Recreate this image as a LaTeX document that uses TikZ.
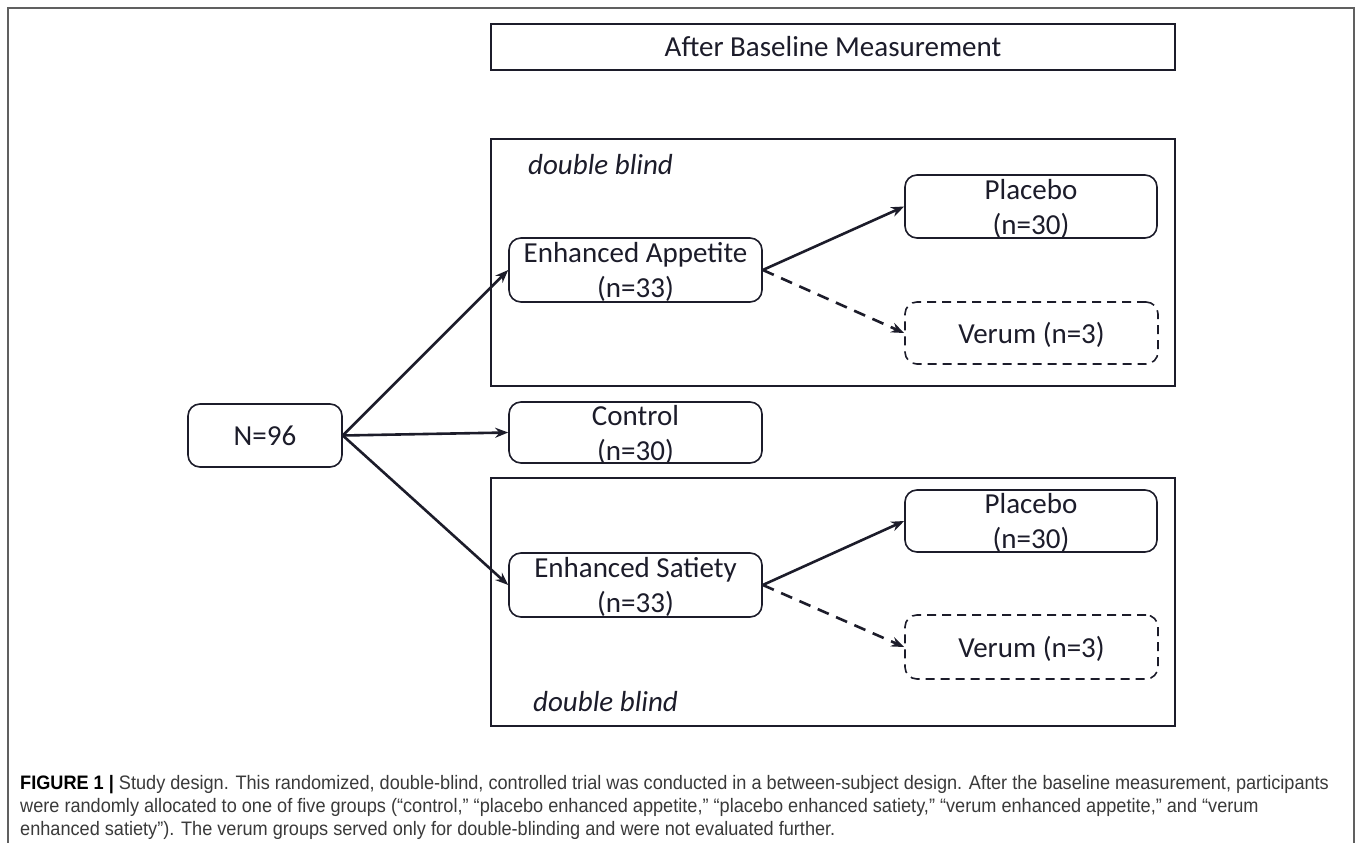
\documentclass[tikz,border=0pt]{standalone}
\usepackage{fontspec}
\setmainfont{Carlito}
\newfontfamily\capfont{Liberation Sans}[FakeStretch=0.93]
\usetikzlibrary{arrows.meta}
\definecolor{ink}{HTML}{1C1C2A}
\definecolor{capgray}{HTML}{3A3A3A}
\tikzset{
  box/.style={draw=ink, line width=1.6pt, rounded corners=12pt, inner sep=0pt, align=center,
    font=\fontsize{29}{35}\selectfont, text=ink, text depth=0pt},
  dbox/.style={box, dash pattern=on 9pt off 6pt, text depth=-4pt},
  frame/.style={draw=ink, line width=1.6pt, inner sep=0pt},
  arr/.style={draw=ink, line width=2.6pt, -{Stealth[length=13pt,width=10pt]}},
  darr/.style={arr, dash pattern=on 12pt off 8pt},
  dbl/.style={font=\fontsize{29}{35}\selectfont\itshape, text=ink, anchor=west, inner sep=0pt},
  capline/.style={font=\capfont\fontsize{19.5}{23}\selectfont, text=capgray, anchor=base west, inner sep=0pt}
}
\begin{document}
\begin{tikzpicture}[x=1pt,y=-1pt]
\useasboundingbox (0,0) rectangle (1358,843);
\fill[white] (0,0) rectangle (1358,843);
\draw[gray!75!black, line width=1.4pt] (8,8) rectangle (1354,860);
% frames
\node[frame, minimum width=684pt, minimum height=46pt, font=\fontsize{29}{35}\selectfont, text=ink] (abm) at (833,47) {After Baseline Measurement};
\node[frame, minimum width=684pt, minimum height=247pt] (upfr) at (833,262.5) {};
\node[frame, minimum width=684pt, minimum height=248pt] (lofr) at (833,602) {};
\node[dbl] (dbu) at (528,165) {double blind};
\node[dbl] (dbl) at (533,702) {double blind};
% boxes
\node[box, minimum width=154pt, minimum height=63pt, text depth=-2pt] (n96) at (265,435.5) {N=96};
\node[box, minimum width=253pt, minimum height=64pt] (ea) at (635.5,270) {Enhanced Appetite\\(n=33)};
\node[box, minimum width=253pt, minimum height=61pt] (ctrl) at (635.5,432.5) {Control\\(n=30)};
\node[box, minimum width=253pt, minimum height=64pt] (es) at (635.5,585) {Enhanced Satiety\\(n=33)};
\node[box, minimum width=252pt, minimum height=63pt] (p1) at (1031,206.5) {Placebo\\(n=30)};
\node[dbox, minimum width=253pt, minimum height=62pt] (v1) at (1031.5,333) {Verum (n=3)};
\node[box, minimum width=252pt, minimum height=62pt] (p2) at (1031,521) {Placebo\\(n=30)};
\node[dbox, minimum width=253pt, minimum height=64pt] (v2) at (1031.5,647) {Verum (n=3)};
% arrows
\draw[arr] (n96.east) -- (ea.west);
\draw[arr] (n96.east) -- (ctrl.west);
\draw[arr] (n96.east) -- (es.west);
\draw[arr] (ea.east) -- (p1.west);
\draw[darr] (ea.east) -- (v1.west);
\draw[arr] (es.east) -- (p2.west);
\draw[darr] (es.east) -- (v2.west);
% caption
\node[capline] (c1) at (20,789) {\textbf{\color{black}FIGURE 1 |} Study design. This randomized, double-blind, controlled trial was conducted in a between-subject design. After the baseline measurement, participants};
\node[capline] (c2) at (20,812) {were randomly allocated to one of five groups (“control,” “placebo enhanced appetite,” “placebo enhanced satiety,” “verum enhanced appetite,” and “verum};
\node[capline] (c3) at (20,835) {enhanced satiety”). The verum groups served only for double-blinding and were not evaluated further.};
\end{tikzpicture}
\end{document}
